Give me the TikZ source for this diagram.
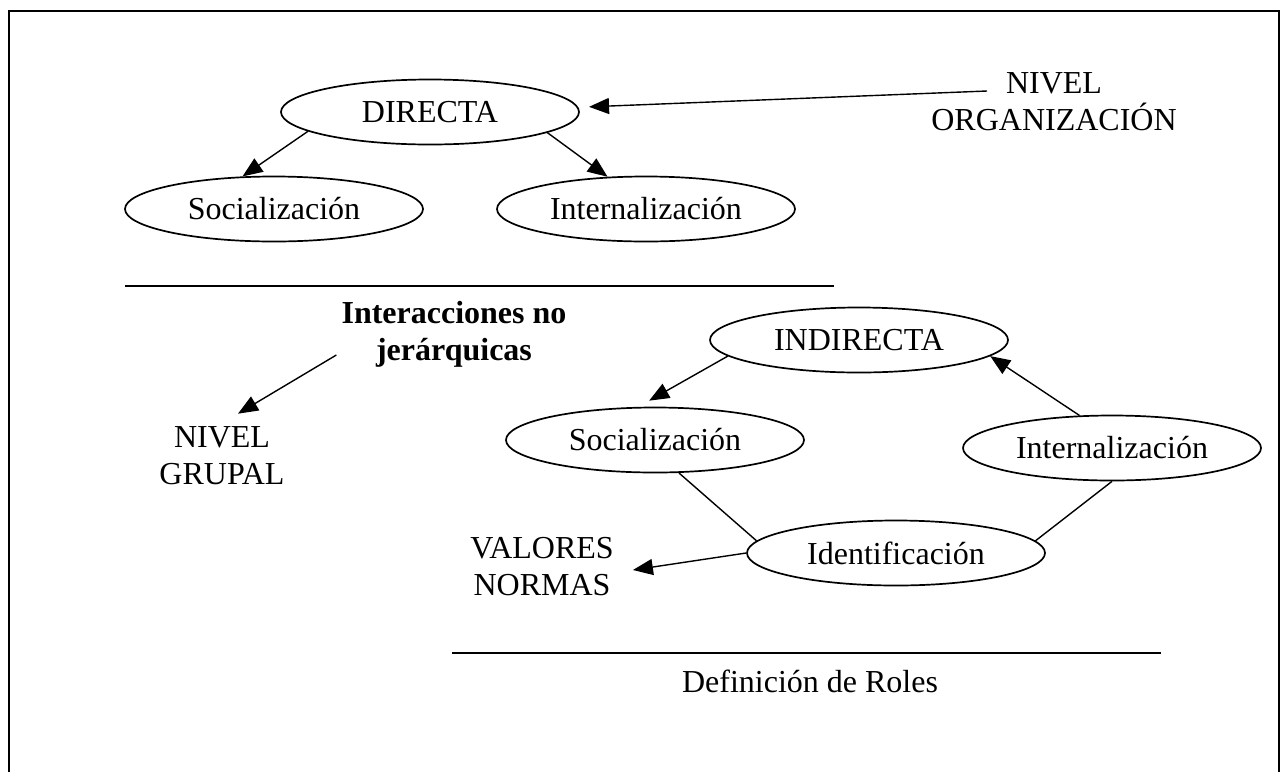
\documentclass[tikz,border=0pt]{standalone}
\usepackage{fontspec}
\setmainfont{Liberation Serif}
\usetikzlibrary{shapes.geometric,arrows.meta}
\begin{document}
\begin{tikzpicture}[
                x=1pt, y=-1pt,
                nodo/.style={shape=ellipse, draw=black, line width=1.7pt, minimum width=298pt, minimum height=65pt, inner sep=0pt, font=\fontsize{32}{37}\selectfont},
                texto/.style={align=center, inner sep=0pt, font=\fontsize{32}{37}\selectfont},
                flecha/.style={line width=1.4pt, -{Triangle[length=20pt,width=16pt]}},
                arista/.style={line width=1.4pt},
                raya/.style={line width=2pt},
            ]
            \useasboundingbox (0,0) rectangle (1282,772);
            \draw[line width=2pt] (9,772) -- (9,11) -- (1279,11) -- (1279,772);
            % nivel organizacion
            \node[nodo] (directa) at (430,112) {DIRECTA};
            \node[nodo] (soc1) at (274,209) {Socialización};
            \node[nodo] (int1) at (646,209) {Internalización};
            \node[texto] (nivorg) at (1054,102) {NIVEL\\ORGANIZACIÓN};
            \coordinate (orgini) at (987,91);
            \draw[flecha] (orgini) -- ([xshift=11pt]directa.2);
            \draw[flecha] (directa.189) -- (soc1.134);
            \draw[flecha] (directa.350) -- (int1.140);
            \draw[raya] (125,286) -- (834,286);
            % nivel grupal
            \node[texto, font=\bfseries\fontsize{32}{37}\selectfont] (interac) at (454,334) {Interacciones no\\jerárquicas};
            \node[texto] (grupal) at (222,456) {NIVEL\\GRUPAL};
            \draw[flecha] ([shift={(-5,21)}]interac.west) -- ([shift={(16,-13)}]grupal.north);
            \node[nodo] (indir) at (859,340) {INDIRECTA};
            \node[nodo] (soc2) at (655,440) {Socialización};
            \node[nodo] (int2) at (1112,448) {Internalización};
            \node[nodo] (ident) at (896,553) {Identificación};
            \node[texto] (valnor) at (542,567) {VALORES\\NORMAS};
            \draw[flecha] (indir.187) -- ([yshift=6pt]soc2.100);
            \draw[flecha] (int2.135) -- (indir.353);
            \draw[arista] (soc2.306) -- (ident.175);
            \draw[arista] (int2.south) -- (ident.5);
            \draw[flecha] (ident.180) -- ([xshift=19pt, yshift=-3pt]valnor.east);
            \draw[raya] (452,653) -- (1161,653);
            \node[texto] (roles) at (810,681) {Definición de Roles};
        \end{tikzpicture}
\end{document}
